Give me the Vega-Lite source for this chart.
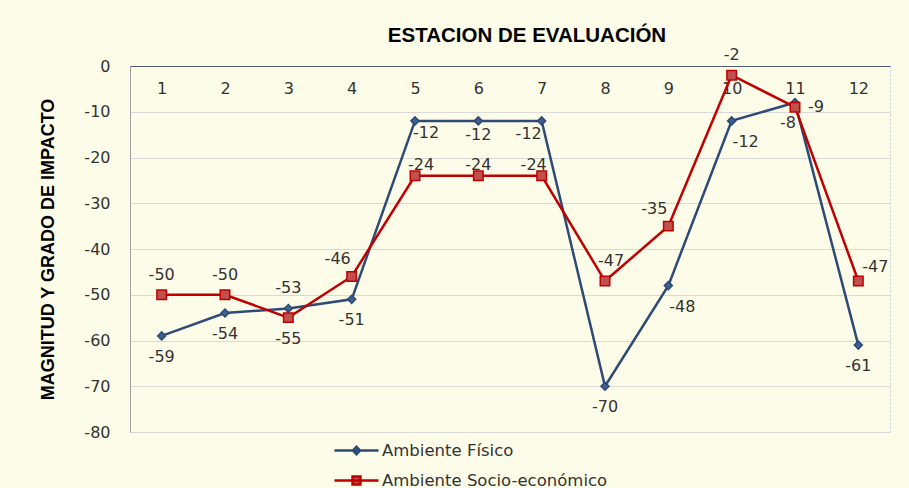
{
  "$schema": "https://vega.github.io/schema/vega-lite/v6.json",
  "width": 760,
  "height": 366,
  "autosize": {"type": "none"},
  "padding": {"left": 130, "top": 66, "right": 19, "bottom": 56},
  "background": "#FCFCE8",
  "title": {"text": "ESTACION DE EVALUACIÓN", "font": "Liberation Sans", "fontSize": 20.5, "fontWeight": "bold", "color": "#000000", "anchor": "middle", "frame": "group", "baseline": "alphabetic", "offset": -15, "dx": 17},
  "config": {"view": {"stroke": "#C5CCDA", "strokeDash": [2, 2]},
    "legend": {"title": null, "orient": "none", "legendX": 214, "legendY": 372, "direction": "vertical", "symbolSize": 484, "symbolStrokeWidth": 2.5, "labelOffset": 13, "rowPadding": 8, "labelFont": "DejaVu Sans", "labelFontSize": 16.5, "labelColor": "#333333", "labelLimit": 400}},
  "data": {"values": [
    {"estacion": 1, "serie": "Ambiente Físico", "valor": -59},
    {"estacion": 2, "serie": "Ambiente Físico", "valor": -54},
    {"estacion": 3, "serie": "Ambiente Físico", "valor": -53},
    {"estacion": 4, "serie": "Ambiente Físico", "valor": -51},
    {"estacion": 5, "serie": "Ambiente Físico", "valor": -12},
    {"estacion": 6, "serie": "Ambiente Físico", "valor": -12},
    {"estacion": 7, "serie": "Ambiente Físico", "valor": -12},
    {"estacion": 8, "serie": "Ambiente Físico", "valor": -70},
    {"estacion": 9, "serie": "Ambiente Físico", "valor": -48},
    {"estacion": 10, "serie": "Ambiente Físico", "valor": -12},
    {"estacion": 11, "serie": "Ambiente Físico", "valor": -8},
    {"estacion": 12, "serie": "Ambiente Físico", "valor": -61},
    {"estacion": 1, "serie": "Ambiente Socio-económico", "valor": -50},
    {"estacion": 2, "serie": "Ambiente Socio-económico", "valor": -50},
    {"estacion": 3, "serie": "Ambiente Socio-económico", "valor": -55},
    {"estacion": 4, "serie": "Ambiente Socio-económico", "valor": -46},
    {"estacion": 5, "serie": "Ambiente Socio-económico", "valor": -24},
    {"estacion": 6, "serie": "Ambiente Socio-económico", "valor": -24},
    {"estacion": 7, "serie": "Ambiente Socio-económico", "valor": -24},
    {"estacion": 8, "serie": "Ambiente Socio-económico", "valor": -47},
    {"estacion": 9, "serie": "Ambiente Socio-económico", "valor": -35},
    {"estacion": 10, "serie": "Ambiente Socio-económico", "valor": -2},
    {"estacion": 11, "serie": "Ambiente Socio-económico", "valor": -9},
    {"estacion": 12, "serie": "Ambiente Socio-económico", "valor": -47}
  ]},
  "encoding": {
    "x": {"field": "estacion", "type": "ordinal", "axis": {"orient": "top", "title": null, "labelAngle": 0, "ticks": false, "tickSize": 0, "labelPadding": -22, "labelBaseline": "middle", "labelFont": "DejaVu Sans", "labelFontSize": 16, "labelColor": "#333333", "domainColor": "#505A70", "domainWidth": 1, "grid": false}},
    "y": {"field": "valor", "type": "quantitative", "scale": {"domain": [-80, 0], "nice": false}, "axis": {"title": "MAGNITUD Y GRADO  DE  IMPACTO", "values": [0, -10, -20, -30, -40, -50, -60, -70, -80], "labelExpr": "'' + datum.value", "ticks": false, "tickSize": 0, "labelPadding": 20, "labelFont": "DejaVu Sans", "labelFontSize": 16, "labelColor": "#333333", "domainColor": "#A0A0A0", "gridColor": "#D9D9D9", "titleFont": "Liberation Sans", "titleFontSize": 18, "titleFontWeight": "bold", "titleColor": "#000000", "titlePadding": 26}}
  },
  "layer": [
    {"mark": {"type": "line", "strokeWidth": 2.5},
     "encoding": {"stroke": {"field": "serie", "type": "nominal", "scale": {"domain": ["Ambiente Físico", "Ambiente Socio-económico"], "range": ["#2E4A76", "#C00000"]},
       "legend": {"symbolType": "M-2,0H2M0,-0.33L0.33,0L0,0.33L-0.33,0Z", "encode": {"symbols": {"update": {"shape": {"signal": "datum.value === 'Ambiente Físico' ? 'M-2,0H2M0,-0.33L0.33,0L0,0.33L-0.33,0Z' : 'M-2,0H2M-0.36,-0.36H0.36V0.36H-0.36Z'"}}}}}}}},
    {"mark": {"type": "point", "filled": true, "opacity": 1, "strokeWidth": 1.5},
     "encoding": {
       "shape": {"condition": {"test": "datum.serie === 'Ambiente Físico'", "value": "diamond"}, "value": "square"},
       "size": {"condition": {"test": "datum.serie === 'Ambiente Físico'", "value": 64}, "value": 90},
       "fill": {"field": "serie", "type": "nominal", "scale": {"domain": ["Ambiente Físico", "Ambiente Socio-económico"], "range": ["#3E5F92", "#C0504D"]},
         "legend": {"symbolType": "M-2,0H2M0,-0.33L0.33,0L0,0.33L-0.33,0Z", "encode": {"symbols": {"update": {"shape": {"signal": "datum.value === 'Ambiente Físico' ? 'M-2,0H2M0,-0.33L0.33,0L0,0.33L-0.33,0Z' : 'M-2,0H2M-0.36,-0.36H0.36V0.36H-0.36Z'"}}}}}},
       "stroke": {"field": "serie", "type": "nominal",
         "legend": {"symbolType": "M-2,0H2M0,-0.33L0.33,0L0,0.33L-0.33,0Z", "encode": {"symbols": {"update": {"shape": {"signal": "datum.value === 'Ambiente Físico' ? 'M-2,0H2M0,-0.33L0.33,0L0,0.33L-0.33,0Z' : 'M-2,0H2M-0.36,-0.36H0.36V0.36H-0.36Z'"}}}}}}
     }},
    {"transform": [{"filter": "(datum.serie === 'Ambiente Físico' && indexof([1,2,4,8,12], datum.estacion) >= 0) || (datum.serie !== 'Ambiente Físico' && datum.estacion === 3)"}],
     "mark": {"type": "text", "font": "DejaVu Sans", "fontSize": 16, "fill": "#333333", "dx": 0, "dy": 21},
     "encoding": {"text": {"field": "valor"}}},
    {"transform": [{"filter": "datum.serie === 'Ambiente Físico' && indexof([9,10], datum.estacion) >= 0"}],
     "mark": {"type": "text", "font": "DejaVu Sans", "fontSize": 16, "fill": "#333333", "dx": 14, "dy": 21},
     "encoding": {"text": {"field": "valor"}}},
    {"transform": [{"filter": "datum.serie === 'Ambiente Físico' && datum.estacion === 5"}],
     "mark": {"type": "text", "font": "DejaVu Sans", "fontSize": 16, "fill": "#333333", "dx": 11, "dy": 12},
     "encoding": {"text": {"field": "valor"}}},
    {"transform": [{"filter": "datum.serie === 'Ambiente Físico' && datum.estacion === 6"}],
     "mark": {"type": "text", "font": "DejaVu Sans", "fontSize": 16, "fill": "#333333", "dx": 0, "dy": 14},
     "encoding": {"text": {"field": "valor"}}},
    {"transform": [{"filter": "datum.serie === 'Ambiente Físico' && datum.estacion === 7"}],
     "mark": {"type": "text", "font": "DejaVu Sans", "fontSize": 16, "fill": "#333333", "dx": -13, "dy": 13},
     "encoding": {"text": {"field": "valor"}}},
    {"transform": [{"filter": "datum.serie === 'Ambiente Físico' && datum.estacion === 11"}],
     "mark": {"type": "text", "font": "DejaVu Sans", "fontSize": 16, "fill": "#333333", "dx": -7, "dy": 20},
     "encoding": {"text": {"field": "valor"}}},
    {"transform": [{"filter": "(datum.serie !== 'Ambiente Físico' && indexof([1,2,10], datum.estacion) >= 0) || (datum.serie === 'Ambiente Físico' && datum.estacion === 3)"}],
     "mark": {"type": "text", "font": "DejaVu Sans", "fontSize": 16, "fill": "#333333", "dx": 0, "dy": -20},
     "encoding": {"text": {"field": "valor"}}},
    {"transform": [{"filter": "datum.serie !== 'Ambiente Físico' && indexof([4,9], datum.estacion) >= 0"}],
     "mark": {"type": "text", "font": "DejaVu Sans", "fontSize": 16, "fill": "#333333", "dx": -14, "dy": -17},
     "encoding": {"text": {"field": "valor"}}},
    {"transform": [{"filter": "datum.serie !== 'Ambiente Físico' && datum.estacion === 5"}],
     "mark": {"type": "text", "font": "DejaVu Sans", "fontSize": 16, "fill": "#333333", "dx": 6, "dy": -11},
     "encoding": {"text": {"field": "valor"}}},
    {"transform": [{"filter": "datum.serie !== 'Ambiente Físico' && datum.estacion === 6"}],
     "mark": {"type": "text", "font": "DejaVu Sans", "fontSize": 16, "fill": "#333333", "dx": 0, "dy": -11},
     "encoding": {"text": {"field": "valor"}}},
    {"transform": [{"filter": "datum.serie !== 'Ambiente Físico' && datum.estacion === 7"}],
     "mark": {"type": "text", "font": "DejaVu Sans", "fontSize": 16, "fill": "#333333", "dx": -8, "dy": -11},
     "encoding": {"text": {"field": "valor"}}},
    {"transform": [{"filter": "datum.serie !== 'Ambiente Físico' && datum.estacion === 8"}],
     "mark": {"type": "text", "font": "DejaVu Sans", "fontSize": 16, "fill": "#333333", "dx": 6, "dy": -20},
     "encoding": {"text": {"field": "valor"}}},
    {"transform": [{"filter": "datum.serie !== 'Ambiente Físico' && datum.estacion === 11"}],
     "mark": {"type": "text", "font": "DejaVu Sans", "fontSize": 16, "fill": "#333333", "dx": 21, "dy": 0},
     "encoding": {"text": {"field": "valor"}}},
    {"transform": [{"filter": "datum.serie !== 'Ambiente Físico' && datum.estacion === 12"}],
     "mark": {"type": "text", "font": "DejaVu Sans", "fontSize": 16, "fill": "#333333", "dx": 17, "dy": -14},
     "encoding": {"text": {"field": "valor"}}}
  ]
}
